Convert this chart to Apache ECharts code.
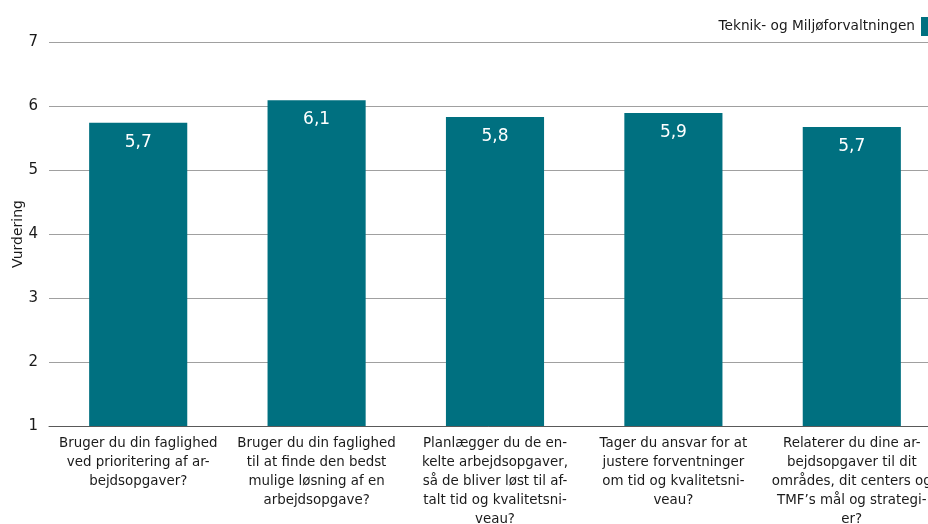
<!DOCTYPE html>
<html>
<head>
<meta charset="utf-8">
<script src="https://cdn.jsdelivr.net/npm/echarts@6/dist/echarts.min.js"></script>
<style>
  html, body { margin: 0; padding: 0; background: #fff; }
  #chart { width: 928px; height: 524px; }
</style>
</head>
<body>
<div id="chart"></div>
<script>
// spørgsmål (kategorier)
var categories = [
  'Bruger du din faglighed\nved prioritering af ar-\nbejdsopgaver?',
  'Bruger du din faglighed\ntil at finde den bedst\nmulige løsning af en\narbejdsopgave?',
  'Planlægger du de en-\nkelte arbejdsopgaver,\nså de bliver løst til af-\ntalt tid og kvalitetsni-\nveau?',
  'Tager du ansvar for at\njustere forventninger\nom tid og kvalitetsni-\nveau?',
  'Relaterer du dine ar-\nbejdsopgaver til dit\nområdes, dit centers og\nTMF’s mål og strategi-\ner?'
]
var seriesName = 'Teknik- og Miljøforvaltningen'
var values = [5.74, 6.09, 5.83, 5.89, 5.67]

var font = '"DejaVu Sans", sans-serif'
var chart = echarts.init(document.getElementById('chart'))
var option = {
  animation: false,
  textStyle: { fontFamily: font },
  legend: {
    right: -12,
    top: 12,
    align: 'right',
    itemWidth: 14,
    itemHeight: 19,
    itemGap: 0,
    icon: 'rect',
    textStyle: { fontFamily: font, fontSize: 13.7, color: '#1a1a1a', padding: [0, 1, 0, 0] },
    data: [seriesName]
  },
  grid: {
    left: 49,
    width: 892,
    top: 42,
    height: 384,
    containLabel: false,
    outerBoundsMode: 'none'
  },
  xAxis: {
    type: 'category',
    data: categories,
    axisTick: { show: false },
    axisLine: { lineStyle: { color: '#595959', width: 1 } },
    axisLabel: {
      interval: 0,
      margin: 8,
      fontFamily: font,
      fontSize: 13.4,
      lineHeight: 19,
      color: '#1a1a1a'
    }
  },
  yAxis: {
    type: 'value',
    min: 1,
    max: 7,
    interval: 1,
    name: 'Vurdering',
    nameLocation: 'middle',
    nameGap: 24,
    nameMoveOverlap: false,
    nameTextStyle: { fontFamily: font, fontSize: 14, color: '#1a1a1a' },
    axisLine: { show: false },
    axisTick: { show: false },
    axisLabel: { fontFamily: font, fontSize: 15, color: '#1a1a1a', margin: 11 },
    splitLine: { lineStyle: { color: '#a0a0a0', width: 1 } }
  },
  series: [{
    name: seriesName,
    type: 'bar',
    data: values,
    barWidth: '55%',
    itemStyle: { color: '#007080' },
    label: {
      show: true,
      position: 'insideTop',
      distance: 11,
      fontFamily: font,
      fontSize: 17,
      color: '#ffffff',
      formatter: function (p) { return p.value.toFixed(1).replace('.', ',') }
    }
  }]
}
chart.setOption(option)
</script>
</body>
</html>
